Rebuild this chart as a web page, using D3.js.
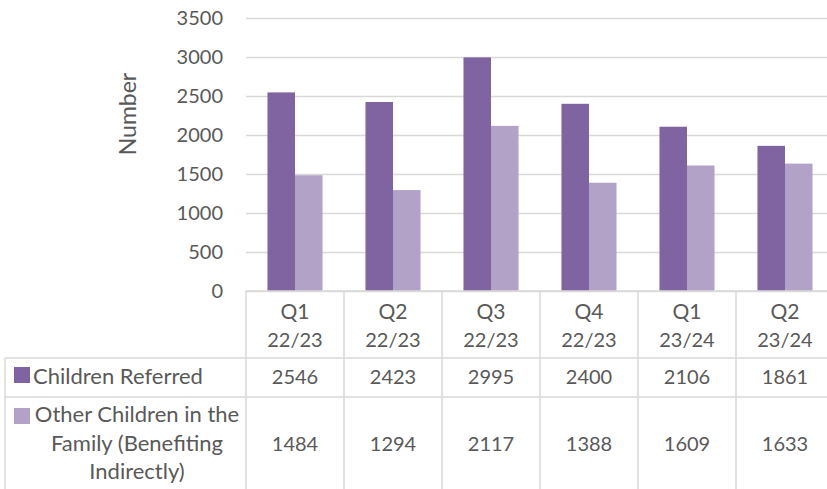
<!DOCTYPE html>
<html>
<head>
<meta charset="utf-8">
<script src="https://cdn.jsdelivr.net/npm/d3@7"></script>
<style>
  body { margin: 0; background: #fff; }
  svg text { font-family: Lato, "Open Sans", sans-serif; fill: #595959; }
</style>
</head>
<body>
<svg id="chart" width="827" height="489"></svg>
<script>
// Data
const categories = ['Q1 22/23', 'Q2 22/23', 'Q3 22/23', 'Q4 22/23', 'Q1 23/24', 'Q2 23/24'];
const seriesNames = ['Children Referred', 'Other Children in the Family (Benefiting Indirectly)'];
const childrenReferred = [2546, 2423, 2995, 2400, 2106, 1861];
const otherChildren = [1484, 1294, 2117, 1388, 1609, 1633];
const yTicks = [0, 500, 1000, 1500, 2000, 2500, 3000, 3500];
// how the legend labels wrap in the data table
const legendLines = [['Children Referred'], ['Other Children in the', 'Family (Benefiting', 'Indirectly)']];

const seriesValues = [childrenReferred, otherChildren];
const colors = ['#8064a2', '#b3a2c7'];
const gridColor = '#d9d9d9';

const svg = d3.select('#chart');
const plot = { left: 246, top: 18, bottom: 291 };
const colW = 98;
const tableRight = plot.left + colW * categories.length;
const rowY = [291, 358, 397, 489];   // header / row1 / row2 boundaries
const tableLeft = 5;

const x = d3.scaleBand()
    .domain(categories)
    .range([plot.left, tableRight]);

const xInner = d3.scaleBand()
    .domain(seriesNames)
    .range([0, x.bandwidth()])
    .paddingOuter(0.78);

const y = d3.scaleLinear()
    .domain([0, 3500])
    .range([plot.bottom, plot.top]);

// Gridlines + tick labels
const yAxis = svg.append('g')
    .attr('transform', `translate(${plot.left},0)`)
    .call(d3.axisLeft(y)
        .tickValues(yTicks)
        .tickSize(-(827 - plot.left))
        .tickPadding(23)
        .tickFormat(d3.format('d')));
yAxis.select('.domain').remove();
yAxis.selectAll('.tick line')
    .attr('stroke', gridColor)
    .attr('stroke-width', 1.3);
yAxis.selectAll('.tick text')
    .style('font-size', '20px')
    .attr('fill', '#595959');

// Axis title
svg.append('text')
    .attr('transform', 'translate(136,114) rotate(-90)')
    .attr('text-anchor', 'middle')
    .style('font-size', '23px')
    .text('Number');

// Bars
seriesNames.forEach((name, si) => {
    svg.append('g').selectAll('rect')
        .data(categories)
        .join('rect')
        .attr('x', d => x(d) + xInner(name))
        .attr('y', (d, i) => y(seriesValues[si][i]))
        .attr('width', xInner.bandwidth())
        .attr('height', (d, i) => y(0) - y(seriesValues[si][i]))
        .attr('fill', colors[si]);
});

// Data table lines
const lines = svg.append('g')
    .attr('stroke', gridColor)
    .attr('stroke-width', 1.5)
    .attr('fill', 'none');

lines.append('line')
    .attr('x1', plot.left).attr('x2', 827)
    .attr('y1', rowY[0]).attr('y2', rowY[0]);
[rowY[1], rowY[2]].forEach(yy => {
    lines.append('line')
        .attr('x1', tableLeft).attr('x2', 827)
        .attr('y1', yy).attr('y2', yy);
});
lines.append('line')
    .attr('x1', tableLeft).attr('x2', tableLeft)
    .attr('y1', rowY[1]).attr('y2', 489);
lines.selectAll('.col')
    .data(categories)
    .join('line')
    .attr('class', 'col')
    .attr('x1', d => x(d)).attr('x2', d => x(d))
    .attr('y1', rowY[0]).attr('y2', 489);

// Header row: category labels on two lines
const header = svg.append('g').selectAll('text')
    .data(categories)
    .join('text')
    .attr('text-anchor', 'middle')
    .style('font-size', '21px');
header.append('tspan')
    .attr('x', d => x(d) + colW / 2)
    .attr('y', 319)
    .text(d => d.split(' ')[0]);
header.append('tspan')
    .attr('x', d => x(d) + colW / 2)
    .attr('y', 347)
    .style('font-size', '20px')
    .text(d => d.split(' ')[1]);

// Value rows
const rowTextY = [384, 451];
seriesNames.forEach((name, si) => {
    svg.append('g').selectAll('text')
        .data(categories)
        .join('text')
        .attr('x', d => x(d) + colW / 2)
        .attr('y', rowTextY[si])
        .attr('text-anchor', 'middle')
        .style('font-size', '20px')
        .text((d, i) => seriesValues[si][i]);
});

// Legend keys and series labels
const keyY = [367, 408];
const labelTop = [384, 422];
seriesNames.forEach((name, si) => {
    svg.append('rect')
        .attr('x', 14).attr('y', keyY[si])
        .attr('width', 16).attr('height', 16)
        .attr('fill', colors[si]);
    const t = svg.append('text')
        .attr('text-anchor', 'middle')
        .style('font-size', '22px');
    legendLines[si].forEach((ln, li) => {
        t.append('tspan')
            .attr('x', si === 0 ? 33 : 137)
            .attr('y', labelTop[si] + li * 28.5)
            .attr('text-anchor', si === 0 ? 'start' : 'middle')
            .text(ln);
    });
});
</script>
</body>
</html>
